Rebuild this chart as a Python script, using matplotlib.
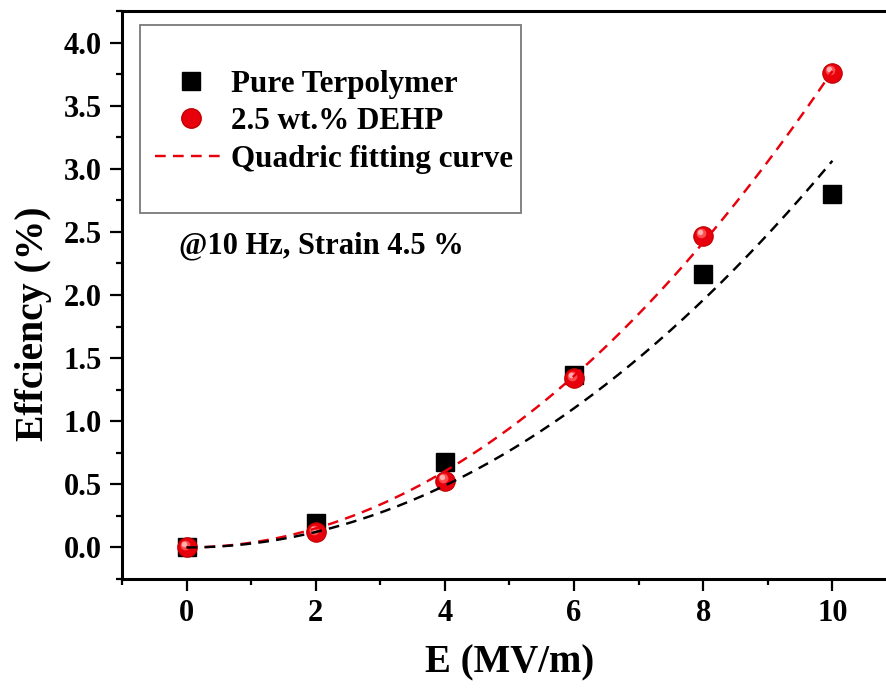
import numpy as np
import matplotlib
matplotlib.use("Agg")
import matplotlib.pyplot as plt
from matplotlib.ticker import MultipleLocator, FormatStrFormatter
from matplotlib.patches import Rectangle
from matplotlib.transforms import offset_copy
from matplotlib.lines import Line2D

# Electric field (MV/m)
field = [0, 2, 4, 6, 8, 10]
# Energy-harvesting efficiency (%)
eff_pure = [0.0, 0.19, 0.68, 1.37, 2.17, 2.80]
eff_dehp = [0.0, 0.12, 0.53, 1.34, 2.47, 3.76]

label_pure = "Pure Terpolymer"
label_dehp = "2.5 wt.% DEHP"
label_fit = "Quadric fitting curve"
note = "@10 Hz, Strain 4.5 %"
xlabel = "E (MV/m)"
ylabel = "Effciency (%)"

plt.rcParams["font.family"] = ["Liberation Serif", "DejaVu Serif"]
plt.rcParams["font.weight"] = "bold"

fig = plt.figure(figsize=(8.86, 6.92), dpi=100)
ax = fig.add_axes([0.1377, 0.1633, 0.8747, 0.8208])

x = np.asarray(field, float)


def quad_fit(xv, yv):
    # least-squares fit of y = a * x^2
    return np.sum(xv**2 * np.asarray(yv)) / np.sum(xv**4)


xf = np.linspace(0, 10, 200)
a_pure = quad_fit(x, eff_pure)
a_dehp = quad_fit(x, eff_dehp)

red = "#e8000c"
dash = (0, (4.4, 3.0))


def sphere(xs, ys, ms, zorder):
    # red ball with a soft highlight towards the upper left
    ax.plot(xs, ys, linestyle="none", marker="o", ms=ms,
            mfc=red, mec="#c00000", mew=0.8, zorder=zorder)
    t1 = offset_copy(ax.transData, fig=fig, x=-1.5, y=1.7, units="points")
    ax.plot(xs, ys, linestyle="none", marker="o", ms=ms * 0.5,
            mfc="#ff4d4d", mec="none", transform=t1, zorder=zorder + 0.1)
    t2 = offset_copy(ax.transData, fig=fig, x=-2.2, y=2.6, units="points")
    ax.plot(xs, ys, linestyle="none", marker="o", ms=ms * 0.28,
            mfc="#ffb0b0", mec="none", transform=t2, zorder=zorder + 0.2)


ax.plot(x, eff_pure, linestyle="none", marker="s", ms=12.5,
        mfc="black", mec="black", zorder=3)
sphere(x, eff_dehp, 14, 4)

ax.plot(xf, a_dehp * xf**2, color=red, lw=1.75, linestyle=dash, zorder=7)
ax.plot(xf, a_pure * xf**2, color="black", lw=1.75, linestyle=dash, zorder=8)

ax.set_xlim(-1, 11)
ax.set_ylim(-0.25, 4.25)
ax.xaxis.set_major_locator(MultipleLocator(2))
ax.xaxis.set_minor_locator(MultipleLocator(1))
ax.yaxis.set_major_locator(MultipleLocator(0.5))
ax.yaxis.set_minor_locator(MultipleLocator(0.25))
ax.yaxis.set_major_formatter(FormatStrFormatter("%.1f"))

for s in ax.spines.values():
    s.set_linewidth(2.2)

ax.tick_params(which="major", direction="out", length=8.6, width=1.6,
               labelsize=22, pad=6)
ax.tick_params(which="minor", direction="out", length=4.3, width=1.6)
for lab in ax.get_xticklabels() + ax.get_yticklabels():
    lab.set_fontweight("bold")

ax.set_xlabel(xlabel, fontsize=28, fontweight="bold")
ax.set_ylabel(ylabel, fontsize=28.5, fontweight="bold")
ax.xaxis.set_label_coords(0.5, -0.115)
ax.yaxis.set_label_coords(-0.090, 0.449)

# legend frame
ax.add_patch(Rectangle((0.0232, 0.644), 0.492, 0.331, transform=ax.transAxes,
                       fill=False, edgecolor="#7a7a7a", lw=1.3, zorder=9))

handles = [
    Line2D([], [], linestyle="none", marker="s", ms=12.5, mfc="black", mec="black"),
    Line2D([], [], linestyle="none", marker="o", ms=14, mfc=red, mec="#c00000"),
    Line2D([], [], color=red, lw=1.75, linestyle=dash),
]
leg = ax.legend(handles, [label_pure, label_dehp, label_fit],
                loc="upper left", bbox_to_anchor=(0.0426, 0.897),
                frameon=False, borderpad=0, borderaxespad=0,
                handlelength=2.29, handletextpad=0.16, labelspacing=0.28,
                prop={"size": 22.4, "weight": "bold"})

ax.text(-0.12, 2.39, note, ha="left", va="center", fontsize=22,
        fontweight="bold")

fig.savefig("out.png", dpi=100)
